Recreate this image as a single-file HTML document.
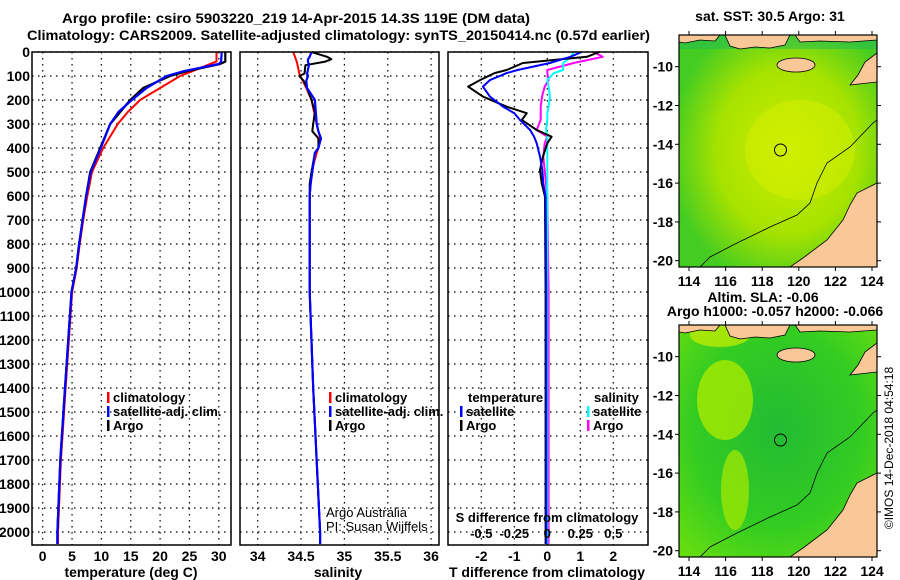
<!DOCTYPE html>
<html><head><meta charset="utf-8"><style>
body{margin:0;background:#fff}
svg{display:block;font-family:"Liberation Sans",sans-serif}
.b{font-weight:bold;font-size:14px}
</style></head><body>
<svg id="c" width="900" height="580" viewBox="0 0 900 580">
<defs>
<radialGradient id="sstg" cx="0.55" cy="0.5" r="0.6"><stop offset="0" stop-color="#ccee00"/><stop offset="0.6" stop-color="#a6e200"/><stop offset="1" stop-color="#44cc22"/></radialGradient>
<radialGradient id="slag" cx="0.5" cy="0.45" r="0.7"><stop offset="0" stop-color="#22bb33"/><stop offset="0.6" stop-color="#33cc22"/><stop offset="1" stop-color="#66dd11"/></radialGradient>
<clipPath id="mc"><rect x="679" y="35" width="198" height="232"/></clipPath>
</defs>
<text class="b" x="62" y="23" textLength="468" lengthAdjust="spacingAndGlyphs">Argo profile: csiro 5903220_219 14-Apr-2015 14.3S 119E (DM data)</text>
<text class="b" x="27" y="40" textLength="623" lengthAdjust="spacingAndGlyphs">Climatology: CARS2009. Satellite-adjusted climatology: synTS_20150414.nc (0.57d earlier)</text>
<g id="plots"></g>
<g id="maps"></g>
<text x="893" y="448" font-size="12" text-anchor="middle" transform="rotate(-90 893 448)">©IMOS 14-Dec-2018 04:54:18</text>
</svg>
<script>
// ---- data ----
const tDepth=[0,40,50,80,100,150,200,250,300,400,500,600,700,800,900,1000,1400,1700,2000,2050];
const tArgo=[31.1,31.1,30.2,24.6,21.7,17.1,14.9,13.2,11.5,9.8,8.1,7.4,6.8,6.2,5.7,4.9,3.8,3.0,2.5,2.5];
const tClim=[29.6,29.6,28.5,25.5,23.4,20.0,16.6,14.5,12.8,10.3,8.4,7.6,6.9,6.3,5.8,5.0,3.9,3.1,2.6,2.6];
const tSat=[30.5,30.4,30.0,24.0,21.1,17.7,15.2,12.9,11.5,9.9,8.2,7.4,6.8,6.2,5.7,4.9,3.8,3.0,2.5,2.5];
const sDepth=[0,20,30,40,55,90,100,120,150,200,250,300,330,360,400,420,500,550,600,1000,1400,2000,2050];
const sArgo=[34.62,34.80,34.85,34.78,34.55,34.54,34.48,34.53,34.57,34.62,34.66,34.64,34.63,34.70,34.70,34.66,34.62,34.60,34.60,34.60,34.64,34.72,34.72];
const sClim=[34.41,34.43,34.44,34.45,34.46,34.48,34.49,34.52,34.56,34.62,34.65,34.68,34.70,34.72,34.70,34.68,34.62,34.61,34.60,34.60,34.64,34.72,34.72];
const sSat=[34.62,34.60,34.58,34.58,34.59,34.57,34.58,34.56,34.57,34.66,34.67,34.68,34.70,34.73,34.70,34.66,34.63,34.61,34.60,34.60,34.64,34.72,34.72];
const dDepth=[0,20,46,75,88,117,144,186,228,255,283,325,353,380,436,492,547,603,1000,2050];
const dTArgo=[1.58,1.2,-0.74,-1.23,-1.6,-2.04,-2.4,-1.95,-1.23,-0.62,-0.77,-0.32,0.13,0,-0.13,-0.22,-0.17,-0.07,-0.05,-0.05];
const dTSat=[1.04,0.7,0.08,-0.9,-1.23,-1.74,-1.95,-1.74,-1.34,-1.0,-0.83,-0.52,-0.4,-0.32,-0.22,-0.15,-0.12,-0.05,-0.03,-0.03];
const dSArgo=[0.35,0.42,0.2,0.0,0.0,0.01,-0.02,-0.04,-0.05,-0.05,-0.05,-0.08,0.0,-0.02,-0.03,-0.02,-0.01,0.0,0.01,0.01];
const dSSat=[0.2,0.18,0.12,0.12,0.05,0.0,0.01,0.02,0.01,0.0,0.0,-0.01,0.0,0.0,0.0,0.0,0.0,0.0,0.0,0.0];
const depthTicks=[0,100,200,300,400,500,600,700,800,900,1000,1100,1200,1300,1400,1500,1600,1700,1800,1900,2000];
const tTicks=[0,5,10,15,20,25,30];
const sTicks=[34,34.5,35,35.5,36];
const dTTicks=[-2,-1,0,1,2];
const dSTicks=[-0.5,-0.25,0,0.25,0.5];
const lonTicks=[114,116,118,120,122,124];
const latTicks=[-10,-12,-14,-16,-18,-20];

const NS='http://www.w3.org/2000/svg';
const P=document.getElementById('plots');
function mk(tag,at,parent){const e=document.createElementNS(NS,tag);for(const k in at)e.setAttribute(k,at[k]);(parent||P).appendChild(e);return e;}
const yD=d=>52+d*0.24;
const yTop=52,yBot=545;
const xT=v=>42.7+v*5.87, xS=v=>257.7+(v-34)*86.7, xDT=v=>547.3+v*33, xDS=v=>547.3+v*132;
const panels=[{x0:32,x1:231,n:'temperature'},{x0:240,x1:439,n:'salinity'},{x0:448,x1:648,n:'difference'}];

function grid(p,xs,xf){
  depthTicks.forEach(d=>{const l=mk('line',{x1:p.x0,x2:p.x1,y1:yD(d),y2:yD(d),stroke:'#000','stroke-dasharray':'1.5 4.5','stroke-width':1.2});
  });
  xs.forEach(v=>{const l=mk('line',{x1:xf(v),x2:xf(v),y1:yTop,y2:yBot,stroke:'#000','stroke-dasharray':'1.5 4.5','stroke-width':1.2});
  });
}
function frame(p){const r=mk('rect',{x:p.x0,y:yTop,width:p.x1-p.x0,height:yBot-yTop,fill:'none',stroke:'#000','stroke-width':1.5});
}
function line(ds,vs,xf,col,w,name){
  const pts=ds.map((d,i)=>xf(vs[i]).toFixed(1)+','+yD(d).toFixed(1)).join(' ');
  const l=mk('polyline',{points:pts,fill:'none',stroke:col,'stroke-width':w,'stroke-linejoin':'round'});
  
}
function txt(x,y,s,at,par){const t=mk('text',Object.assign({x:x,y:y,'font-size':14,'font-weight':'bold'},at||{}),par);t.textContent=s;return t;}

grid(panels[0],tTicks,xT);grid(panels[1],sTicks,xS);grid(panels[2],dTTicks,xDT);
line(tDepth,tClim,xT,'#f00',2,'temperature-climatology-line');
line(tDepth,tArgo,xT,'#000',2.2,'temperature-argo-line');
line(tDepth,tSat,xT,'#00f',2.2,'temperature-satellite-line');
line(sDepth,sClim,xS,'#f00',2,'salinity-climatology-line');
line(sDepth,sArgo,xS,'#000',2,'salinity-argo-line');
line(sDepth,sSat,xS,'#00f',2.2,'salinity-satellite-line');
line(dDepth,dSArgo,xDS,'#f0f',2,'sdiff-argo-line');
line(dDepth,dSSat,xDS,'#0ff',2,'sdiff-satellite-line');
line(dDepth,dTArgo,xDT,'#000',2,'tdiff-argo-line');
line(dDepth,dTSat,xDT,'#00f',2,'tdiff-satellite-line');
panels.forEach(frame);

depthTicks.forEach(d=>{const t=txt(30,yD(d)+5,String(d),{'text-anchor':'end'});
});
function xl(ticks,xf,y,nm,fs){ticks.forEach(v=>{const t=txt(xf(v),y,String(v),{'text-anchor':'middle','font-size':fs||14});
  });}
xl(tTicks,xT,561,'temperature');xl(sTicks,xS,561,'salinity');xl(dTTicks,xDT,561,'tdiff');xl(dSTicks,xDS,538,'sdiff',13);
let t;
t=txt(131,577,'temperature (deg C)',{'text-anchor':'middle'});
t=txt(338,577,'salinity',{'text-anchor':'middle'});
t=txt(547,577,'T difference from climatology',{'text-anchor':'middle'});
t=txt(547,522,'S difference from climatology',{'text-anchor':'middle','font-size':13});

function leg(x,y,col,s){const r=mk('rect',{x:x,y:y-10,width:2.5,height:11,fill:col});
 const tt=txt(x+6,y,s,{'font-size':13});}
leg(107,402,'#f00','climatology');leg(107,416,'#00f','satellite-adj. clim.');leg(107,430,'#000','Argo');
leg(329,402,'#f00','climatology');leg(329,416,'#00f','satellite-adj. clim.');leg(329,430,'#000','Argo');
t=txt(468,402,'temperature',{'font-size':13});
t=txt(594,402,'salinity',{'font-size':13});
leg(460,416,'#00f','satellite');leg(460,430,'#000','Argo');leg(587,416,'#0ff','satellite');leg(587,430,'#f0f','Argo');
t=txt(326,517,'Argo Australia',{'font-weight':'normal','font-size':13});
t=txt(326,531,'PI: Susan Wijffels',{'font-weight':'normal','font-size':13});

// ---- maps ----
const M=document.getElementById('maps');
function mapAt(dy,grad,nm){
  const g=mk('g',{transform:'translate(0,'+dy+')'},M);
  
  const inner=mk('g',{'clip-path':'url(#mc)'},g);
  mk('rect',{x:679,y:35,width:198,height:232,fill:'url(#'+grad+')'},inner);
  if(grad==='slag'){mk('ellipse',{cx:725,cy:110,rx:28,ry:40,fill:'#a8ea00',opacity:0.8},inner);mk('ellipse',{cx:735,cy:200,rx:14,ry:40,fill:'#aaea00',opacity:0.7},inner);mk('ellipse',{cx:720,cy:45,rx:30,ry:12,fill:'#ccee00',opacity:0.7},inner);}
  else{mk('ellipse',{cx:800,cy:150,rx:55,ry:50,fill:'#d6f000',opacity:0.5},inner);mk('rect',{x:679,y:35,width:198,height:14,fill:'#22bb55',opacity:0.5},inner);}
  mk('polygon',{points:'679,35 720,35 715,41 700,40 685,43 679,42',fill:'#f9c896',stroke:'#000','stroke-width':0.8},inner);
  mk('polygon',{points:'725,35 790,35 785,45 770,48 755,47 740,49 730,46',fill:'#f9c896',stroke:'#000','stroke-width':0.8},inner);
  mk('polygon',{points:'795,35 877,35 877,40 850,42 820,41 800,42',fill:'#f9c896',stroke:'#000','stroke-width':0.8},inner);
  mk('ellipse',{cx:796,cy:65,rx:19,ry:7,fill:'#f9c896',stroke:'#000','stroke-width':0.8},inner);
  mk('polygon',{points:'877,53 865,62 858,75 850,85 877,82',fill:'#f9c896',stroke:'#000','stroke-width':0.8},inner);
  mk('polygon',{points:'877,183 857,193 850,205 843,220 827,240 803,258 790,267 877,267',fill:'#f9c896',stroke:'#000','stroke-width':0.8},inner);
  mk('polyline',{points:'877,120 873,123 850,147 827,163 817,183 810,203 797,215 770,227 737,243 710,257 700,267',fill:'none',stroke:'#000','stroke-width':0.8},inner);
  mk('circle',{cx:780.5,cy:150,r:6,fill:'none',stroke:'#000','stroke-width':1},inner);
  mk('rect',{x:679,y:35,width:198,height:232,fill:'none',stroke:'#000','stroke-width':1.2},g);
  lonTicks.forEach(v=>{const x=689+(v-114)*18.3;mk('line',{x1:x,x2:x,y1:31,y2:35,stroke:'#000'},g);mk('line',{x1:x,x2:x,y1:267,y2:271,stroke:'#000'},g);
    const tt=mk('text',{x:x,y:286,'font-size':14,'font-weight':'bold','text-anchor':'middle'},g);tt.textContent=v;
    });
  latTicks.forEach(v=>{const y=66.7+(-10-v)*19.4;mk('line',{x1:675,x2:679,y1:y,y2:y,stroke:'#000'},g);mk('line',{x1:877,x2:881,y1:y,y2:y,stroke:'#000'},g);
    const tt=mk('text',{x:673,y:y+5,'font-size':14,'font-weight':'bold','text-anchor':'end'},g);tt.textContent=v;
    });
}
mapAt(0,'sstg','sst-map');
mapAt(290,'slag','sla-map');
t=txt(770,21,'sat. SST: 30.5 Argo: 31',{'text-anchor':'middle'});
t=txt(763,302,'Altim. SLA: -0.06',{'text-anchor':'middle'});
t=txt(775,316,'Argo h1000: -0.057 h2000: -0.066',{'text-anchor':'middle'});
</script>
</body></html>
